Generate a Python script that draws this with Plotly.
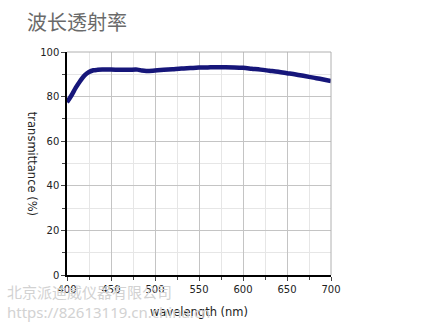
import plotly.graph_objects as go

wavelength = [400, 405, 410, 415, 420, 425, 430, 435, 440, 450, 460, 470, 480, 485, 490,
              500, 510, 520, 530, 540, 550, 560, 570, 580, 590, 600, 610, 620, 630, 640,
              650, 660, 670, 680, 690, 700]
transmittance = [77.5, 80.5, 84.0, 87.0, 89.5, 91.0, 91.8, 92.0, 92.1, 92.1, 92.0, 92.0, 92.1, 91.7, 91.5,
                 91.7, 92.0, 92.3, 92.6, 92.8, 93.0, 93.1, 93.2, 93.2, 93.1, 92.9, 92.5, 92.1, 91.6, 91.1,
                 90.5, 89.9, 89.2, 88.5, 87.8, 87.0]
x_ticks = [400, 450, 500, 550, 600, 650, 700]
y_ticks = [0, 20, 40, 60, 80, 100]

title_text = "波长透射率"
x_title = "wavelength (nm)"
y_title = "transmittance (%)"
watermark_1 = "北京派迪威仪器有限公司"
watermark_2 = "https://82613119.cn.china.cn"

fig = go.Figure()
fig.add_trace(go.Scatter(
    x=wavelength, y=transmittance, mode="lines",
    line=dict(color="#16167a", width=4.5, shape="spline"),
    hoverinfo="skip", showlegend=False,
))

font_main = "DejaVu Sans, Verdana, sans-serif"

fig.update_layout(
    width=425, height=335,
    margin=dict(l=67, r=94, t=52, b=60),
    paper_bgcolor="white", plot_bgcolor="white",
    showlegend=False,
    font=dict(family=font_main, size=9, color="#222"),
)
fig.update_xaxes(
    range=[400, 700], tickvals=x_ticks, ticktext=[str(v) for v in x_ticks],
    showgrid=True, gridcolor="#c4c4c4", gridwidth=1,
    minor=dict(dtick=25, tick0=400, showgrid=True, gridcolor="#e6e6e6", ticks="outside", ticklen=3, tickcolor="#444"),
    showline=True, linecolor="black", linewidth=1.5, mirror=False,
    ticks="outside", ticklen=4, tickcolor="#444",
    zeroline=False,
    tickfont=dict(size=10, family=font_main, color="#222"),
    title=dict(text=x_title, font=dict(size=11.5, family=font_main, color="#222"), standoff=14),
)
fig.update_yaxes(
    range=[0, 100], tickvals=y_ticks,
    showgrid=True, gridcolor="#c4c4c4", gridwidth=1,
    minor=dict(dtick=10, tick0=0, showgrid=True, gridcolor="#e6e6e6", ticks="outside", ticklen=3, tickcolor="#444"),
    showline=True, linecolor="black", linewidth=1.5, mirror=False,
    ticks="outside", ticklen=4, tickcolor="#444",
    zeroline=False,
    tickfont=dict(size=10, family=font_main, color="#222"),
)
# plot border (top/right) in gray
fig.add_shape(type="line", xref="paper", yref="paper", x0=0, x1=1, y0=1, y1=1,
              line=dict(color="#b0b0b0", width=1))
fig.add_shape(type="line", xref="paper", yref="paper", x0=1, x1=1, y0=0, y1=1,
              line=dict(color="#b0b0b0", width=1))

fig.add_annotation(text=y_title, textangle=90, xref="paper", yref="paper",
                   x=-0.13, y=0.5, xanchor="center", yanchor="middle", showarrow=False,
                   font=dict(size=11.5, family=font_main, color="#222"))
fig.add_annotation(text=title_text, xref="paper", yref="paper", x=-0.158, y=1.135,
                   xanchor="left", yanchor="middle", showarrow=False,
                   font=dict(size=20, family="Noto Sans CJK SC", color="#6a6a6a"))
fig.add_annotation(text=watermark_1, xref="paper", yref="paper", x=-0.235, y=-0.075,
                   xanchor="left", yanchor="middle", showarrow=False,
                   font=dict(size=15, family="Noto Sans CJK SC", color="#d2d2d2"))
fig.add_annotation(text=watermark_2, xref="paper", yref="paper", x=-0.235, y=-0.165,
                   xanchor="left", yanchor="middle", showarrow=False,
                   font=dict(size=15, family="Noto Sans, sans-serif", color="#d2d2d2"))

fig.write_html("out.html")
